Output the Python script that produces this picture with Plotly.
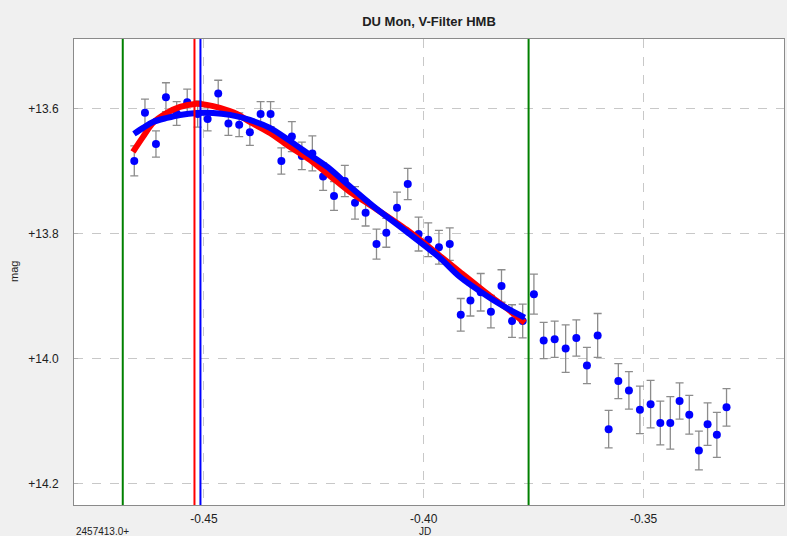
import plotly.graph_objects as go

# ---- observations (JD - 2457413.0, magnitude, error) ----
obs_jd = [-0.46584, -0.46341, -0.46091, -0.45864, -0.45620, -0.45380, -0.45143, -0.44916,
          -0.44675, -0.44443, -0.44198, -0.43955, -0.43711, -0.43484, -0.43239, -0.43000,
          -0.42773, -0.42534, -0.42289, -0.42041, -0.41795, -0.41564, -0.41323, -0.41075,
          -0.40852, -0.40609, -0.40364, -0.40118, -0.39898, -0.39655, -0.39409, -0.39159,
          -0.38939, -0.38705, -0.38473, -0.38232, -0.37993, -0.37750, -0.37495, -0.37273,
          -0.37023, -0.36773, -0.36530, -0.36289, -0.36045, -0.35795, -0.35575, -0.35334,
          -0.35084, -0.34841, -0.34620, -0.34393, -0.34182, -0.33961, -0.33743, -0.33545,
          -0.33334, -0.33114]
obs_mag = [13.684, 13.607, 13.657, 13.582, 13.608, 13.590, 13.609, 13.617,
           13.576, 13.624, 13.626, 13.638, 13.609, 13.609, 13.684, 13.645,
           13.676, 13.672, 13.709, 13.740, 13.716, 13.751, 13.767, 13.817,
           13.799, 13.759, 13.721, 13.801, 13.810, 13.822, 13.817, 13.930,
           13.907, 13.894, 13.925, 13.884, 13.940, 13.940, 13.897, 13.971,
           13.969, 13.984, 13.967, 14.011, 13.963, 14.113, 14.036, 14.051,
           14.082, 14.073, 14.103, 14.103, 14.068, 14.090, 14.147, 14.105,
           14.122, 14.078]
obs_err = [0.024, 0.022, 0.021, 0.023, 0.019, 0.021, 0.021, 0.019,
           0.021, 0.019, 0.019, 0.021, 0.020, 0.020, 0.021, 0.024,
           0.022, 0.028, 0.022, 0.023, 0.025, 0.026, 0.021, 0.024,
           0.023, 0.025, 0.025, 0.027, 0.027, 0.027, 0.026, 0.026,
           0.025, 0.030, 0.026, 0.026, 0.026, 0.027, 0.032, 0.029,
           0.029, 0.038, 0.029, 0.029, 0.035, 0.030, 0.028, 0.030,
           0.038, 0.038, 0.035, 0.042, 0.029, 0.031, 0.031, 0.034,
           0.036, 0.030]

# ---- fitted curves ----
red_jd = [-0.46614, -0.46386, -0.46159, -0.45841, -0.45545, -0.45205, -0.44932, -0.44636,
          -0.44250, -0.43955, -0.43500, -0.43045, -0.42591, -0.42136, -0.41682, -0.41159,
          -0.40386, -0.39636, -0.39182, -0.38500, -0.38045, -0.37705]
red_mag = [13.6695, 13.6455, 13.6232, 13.6072, 13.5976, 13.5928, 13.5944, 13.5992,
           13.6088, 13.6216, 13.6391, 13.6615, 13.6823, 13.7078, 13.7334, 13.7573,
           13.7941, 13.8356, 13.8612, 13.8995, 13.9235, 13.9427]
blue_jd = [-0.46591, -0.46386, -0.46159, -0.45841, -0.45545, -0.45159, -0.44795, -0.44409,
           -0.43955, -0.43500, -0.43045, -0.42591, -0.42136, -0.41750, -0.41159, -0.40386,
           -0.39636, -0.39182, -0.38500, -0.38045, -0.37705]
blue_mag = [13.6407, 13.6311, 13.6216, 13.6152, 13.6104, 13.6072, 13.6072, 13.6104,
            13.6184, 13.6311, 13.6519, 13.6743, 13.6966, 13.7206, 13.7558, 13.7973,
            13.8388, 13.8692, 13.9027, 13.9219, 13.9347]

# ---- vertical marker lines ----
vline_jd = [-0.46846, -0.45215, -0.45079, -0.37616]
vline_color = ["#008000", "#ff0000", "#0000ff", "#008000"]

x_ticks = [-0.45, -0.40, -0.35]
x_ticktext = ["-0.45", "-0.40", "-0.35"]
y_ticks = [13.6, 13.8, 14.0, 14.2]
y_ticktext = ["+13.6", "+13.8", "+14.0", "+14.2"]

FONT = "Liberation Sans, Arial, sans-serif"

fig = go.Figure()
fig.add_trace(go.Scatter(
    x=obs_jd, y=obs_mag, mode="markers",
    marker=dict(color="#0000ff", size=8, line=dict(width=0)),
    error_y=dict(type="data", array=obs_err, visible=True,
                 color="#8c8c8c", thickness=1.3, width=4),
    showlegend=False, hoverinfo="x+y"))
fig.add_trace(go.Scatter(
    x=red_jd, y=red_mag, mode="lines",
    line=dict(color="#ff0000", width=6, shape="spline", smoothing=0.8),
    showlegend=False))
fig.add_trace(go.Scatter(
    x=blue_jd, y=blue_mag, mode="lines",
    line=dict(color="#0000ff", width=6, shape="spline", smoothing=0.8),
    showlegend=False))

for xv, c in zip(vline_jd, vline_color):
    fig.add_shape(type="line", xref="x", yref="paper", x0=xv, x1=xv, y0=0, y1=1,
                  line=dict(color=c, width=2))

fig.update_layout(
    width=787, height=536,
    paper_bgcolor="#f0f0f0", plot_bgcolor="#ffffff",
    margin=dict(l=74, r=3, t=39, b=31, pad=0, autoexpand=False),
    font=dict(family=FONT, size=12, color="#202020"),
    title=dict(text="<b>DU Mon, V-Filter HMB</b>", x=(74 + (787 - 3 - 74) / 2) / 787,
               xanchor="center", y=1 - 21 / 536, yanchor="middle",
               font=dict(size=13, color="#202020", family=FONT)),
    xaxis=dict(range=[-0.47955, -0.31807], tickvals=x_ticks, ticktext=x_ticktext,
               showgrid=True, gridcolor="#c8c8c8", griddash="dash", gridwidth=1,
               zeroline=False, showline=True, linecolor="#8a8a8a", linewidth=1, mirror=True,
               ticks="", ticklabelstandoff=3, tickfont=dict(size=12)),
    yaxis=dict(range=[14.2342, 13.489], tickvals=y_ticks, ticktext=y_ticktext,
               showgrid=True, gridcolor="#c8c8c8", griddash="dash", gridwidth=1,
               zeroline=False, showline=True, linecolor="#8a8a8a", linewidth=1, mirror=True,
               ticks="inside", ticklen=4, tickcolor="#b0b0b0",
               ticklabelstandoff=12, tickfont=dict(size=12)),
)

fig.add_annotation(text="mag", xref="paper", yref="paper", x=-60 / 710, y=0.5,
                   textangle=-90, showarrow=False, font=dict(size=11, family=FONT),
                   xanchor="center", yanchor="middle")
fig.add_annotation(text="2457413.0+", xref="paper", yref="paper", x=0, y=-26 / 466,
                   showarrow=False, xanchor="left", yanchor="middle",
                   font=dict(size=10, family=FONT))
fig.add_annotation(text="JD", xref="paper", yref="paper", x=(425 - 74) / 710, y=-26 / 466,
                   showarrow=False, xanchor="center", yanchor="middle",
                   font=dict(size=10, family=FONT))

fig.write_html("out.html", config={"displayModeBar": False},
               post_script="document.body.style.margin='0';document.body.style.overflow='hidden';")
